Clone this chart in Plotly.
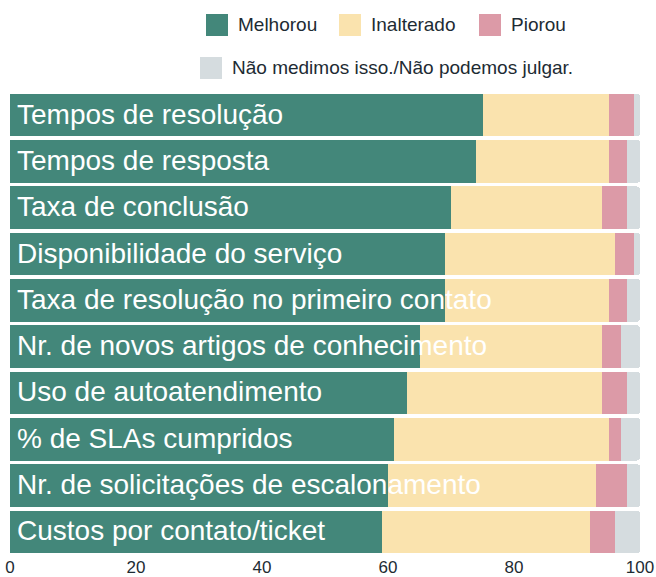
import plotly.graph_objects as go

# Dados (percentuais por indicador)
categorias = [
    "Tempos de resolução",
    "Tempos de resposta",
    "Taxa de conclusão",
    "Disponibilidade do serviço",
    "Taxa de resolução no primeiro contato",
    "Nr. de novos artigos de conhecimento",
    "Uso de autoatendimento",
    "% de SLAs cumpridos",
    "Nr. de solicitações de escalonamento",
    "Custos por contato/ticket",
]
melhorou = [75, 74, 70, 69, 69, 65, 63, 61, 60, 59]
inalterado = [20, 21, 24, 27, 26, 29, 31, 34, 33, 33]
piorou = [4, 3, 4, 3, 3, 3, 4, 2, 5, 4]
nao_medimos = [1, 2, 2, 1, 2, 3, 2, 3, 2, 4]

series = [
    ("Melhorou", melhorou, "#43877a"),
    ("Inalterado", inalterado, "#fae3ae"),
    ("Piorou", piorou, "#dc9aa7"),
    ("Não medimos isso./Não podemos julgar.", nao_medimos, "#d5dcdf"),
]

FONT = "Liberation Sans, Arial, Helvetica, sans-serif"
W, H = 656, 577
ML, MR, MT, MB = 10, 16, 92, 22

fig = go.Figure()
for nome, valores, cor in series:
    fig.add_trace(go.Bar(
        y=categorias,
        x=valores,
        name=nome,
        orientation="h",
        marker=dict(color=cor, line=dict(width=0)),
        showlegend=False,
        hoverinfo="x+name",
    ))

# rótulos dentro das barras
for cat in categorias:
    fig.add_annotation(
        x=0, y=cat, xref="x", yref="y",
        text=cat, showarrow=False,
        xanchor="left", xshift=5, yshift=1,
        font=dict(family=FONT, size=28, color="white"),
    )

# legenda manual (posições em pixels convertidas para paper)
def px_x(p):
    return (p - ML) / (W - ML - MR)

def px_y(p):
    return (H - MB - p) / (H - MT - MB)

legenda = [
    (0, 206, 25),
    (1, 339, 25),
    (2, 479, 25),
    (3, 200, 68),
]
for idx, x0, yc in legenda:
    nome, _, cor = series[idx]
    fig.add_shape(
        type="rect", xref="paper", yref="paper",
        x0=px_x(x0), x1=px_x(x0 + 22),
        y0=px_y(yc + 11), y1=px_y(yc - 11),
        fillcolor=cor, line=dict(width=0),
    )
    fig.add_annotation(
        x=px_x(x0 + 30), y=px_y(yc), xref="paper", yref="paper",
        text=nome, showarrow=False, xanchor="left", yanchor="middle",
        font=dict(family=FONT, size=19, color="#1d2b33"),
    )

fig.update_layout(
    width=W, height=H,
    margin=dict(l=ML, r=MR, t=MT, b=MB),
    barmode="stack",
    bargap=0.08,
    barcornerradius=3,
    plot_bgcolor="white",
    paper_bgcolor="white",
    font=dict(family=FONT, color="#1d2b33"),
    xaxis=dict(
        range=[0, 100],
        tickvals=[0, 20, 40, 60, 80, 100],
        showgrid=False, zeroline=False, showline=False,
        tickfont=dict(size=17, color="#1d2b33"),
        ticklabelstandoff=0,
        automargin=False,
    ),
    yaxis=dict(
        autorange="reversed",
        showticklabels=False,
        showgrid=False, zeroline=False, showline=False,
        automargin=False,
    ),
)

# sem margem do body para o gráfico ocupar a janela inteira
fig.write_html(
    "out.html",
    config={"displayModeBar": False},
    post_script="document.body.style.margin='0';",
)
